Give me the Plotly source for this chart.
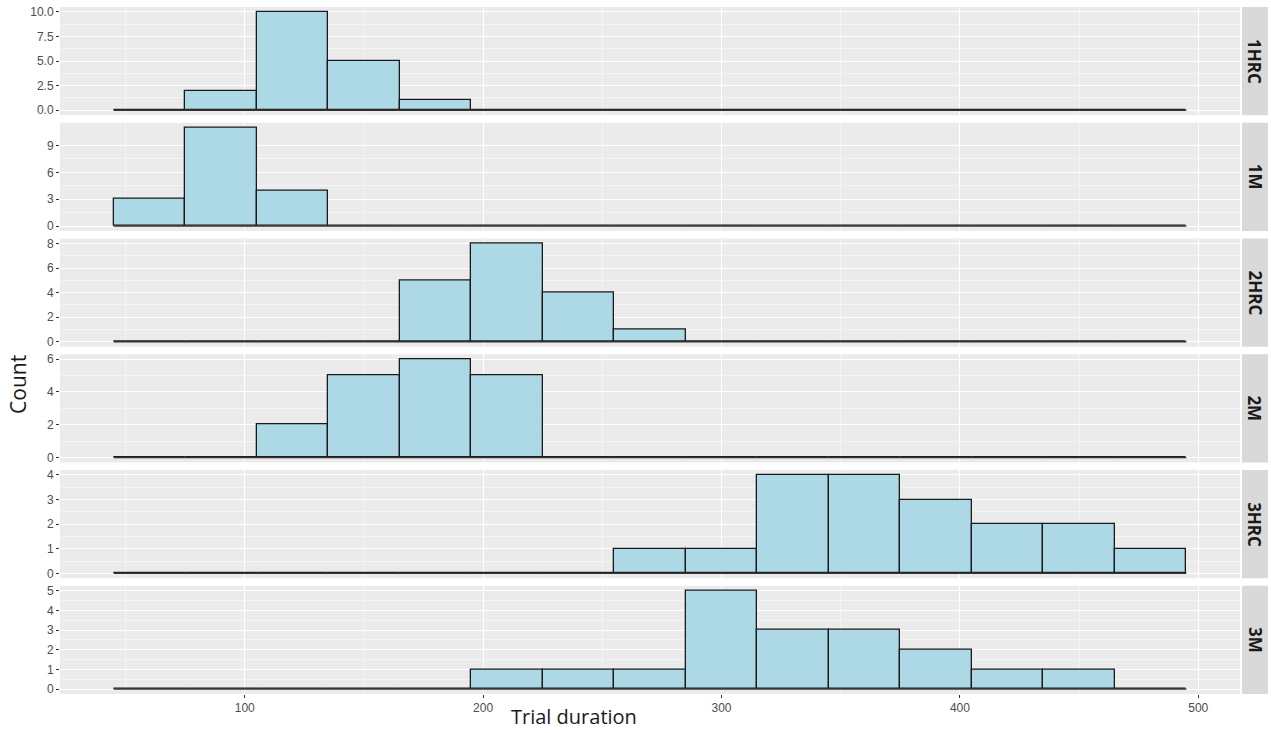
import plotly.graph_objects as go
from plotly.subplots import make_subplots

# ---- data ----
bin_centers = [60, 90, 120, 150, 180, 210, 240, 270, 300, 330, 360, 390, 420, 450, 480]
bin_width = 30
panels = ["1HRC", "1M", "2HRC", "2M", "3HRC", "3M"]
counts_1HRC = [0, 2, 10, 5, 1, 0, 0, 0, 0, 0, 0, 0, 0, 0, 0]
counts_1M = [3, 11, 4, 0, 0, 0, 0, 0, 0, 0, 0, 0, 0, 0, 0]
counts_2HRC = [0, 0, 0, 0, 5, 8, 4, 1, 0, 0, 0, 0, 0, 0, 0]
counts_2M = [0, 0, 2, 5, 6, 5, 0, 0, 0, 0, 0, 0, 0, 0, 0]
counts_3HRC = [0, 0, 0, 0, 0, 0, 0, 1, 1, 4, 4, 3, 2, 2, 1]
counts_3M = [0, 0, 0, 0, 0, 1, 1, 1, 5, 3, 3, 2, 1, 1, 0]
all_counts = [counts_1HRC, counts_1M, counts_2HRC, counts_2M, counts_3HRC, counts_3M]
y_ticks = [[0, 2.5, 5, 7.5, 10], [0, 3, 6, 9], [0, 2, 4, 6, 8], [0, 2, 4, 6], [0, 1, 2, 3, 4], [0, 1, 2, 3, 4, 5]]
x_ticks = [100, 200, 300, 400, 500]

# ---- figure ----
W, H = 1271, 733
ml, mr, mt, mb = 60, 31, 5, 39
plot_h = H - mt - mb
plot_w = W - ml - mr
gap_px = 7.6

fig = make_subplots(rows=6, cols=1, shared_xaxes=True, vertical_spacing=gap_px / plot_h)

x_lo = bin_centers[0] - bin_width / 2
x_hi = bin_centers[-1] + bin_width / 2
pad = 0.05 * (x_hi - x_lo)

tick_font = dict(family="Liberation Sans, Arial, sans-serif", size=12, color="#4D4D4D")

for i, (name, cnt) in enumerate(zip(panels, all_counts)):
    r = i + 1
    fig.add_trace(go.Bar(x=bin_centers, y=cnt, width=bin_width,
                         marker=dict(color="#ADD8E6", line=dict(color="#1A1A1A", width=1.3)),
                         showlegend=False, hoverinfo="x+y"), row=r, col=1)
    fig.add_trace(go.Scatter(x=[x_lo, x_hi], y=[0, 0], mode="lines",
                             line=dict(color="#333333", width=1.5),
                             showlegend=False, hoverinfo="skip"), row=r, col=1)
    ymax = max(cnt)
    ticks = y_ticks[i]
    fig.update_yaxes(row=r, col=1, range=[-0.05 * ymax, 1.05 * ymax],
                     tickvals=ticks, ticktext=[format(t, ".1f") if i == 0 else str(t) for t in ticks],
                     showgrid=True, gridcolor="white", gridwidth=1.1,
                     minor=dict(tickvals=[(a + b) / 2 for a, b in zip(ticks[:-1], ticks[1:])],
                                showgrid=True, gridcolor="#F4F4F4", gridwidth=0.6, ticks=""),
                     zeroline=False, ticks="outside", ticklen=3, tickcolor="#333333", tickwidth=1,
                     tickfont=tick_font, showline=False)
    fig.update_xaxes(row=r, col=1, range=[x_lo - pad, x_hi + pad],
                     tickvals=x_ticks, showgrid=True, gridcolor="white", gridwidth=1.1,
                     minor=dict(tickvals=[50, 150, 250, 350, 450], showgrid=True,
                                gridcolor="#F4F4F4", gridwidth=0.6, ticks=""),
                     zeroline=False, showline=False,
                     ticks="outside" if r == 6 else "", ticklen=3, tickcolor="#333333",
                     showticklabels=(r == 6), tickfont=tick_font)

    # strip
    yref = "y domain" if r == 1 else f"y{r} domain"
    fig.add_shape(type="rect", xref="paper", yref=yref,
                  x0=1 + 2 / plot_w, x1=1 + 28 / plot_w, y0=0, y1=1,
                  fillcolor="#D9D9D9", line=dict(width=0), layer="below")
    fig.add_annotation(xref="paper", yref=yref, x=1 + 15 / plot_w, y=0.5,
                       text=f"<b>{name}</b>", textangle=90, showarrow=False,
                       font=dict(family="Open Sans, sans-serif", size=17, color="#1A1A1A"),
                       xanchor="center", yanchor="middle")

fig.add_annotation(xref="paper", yref="paper", x=(574 - ml) / plot_w, y=-(717 - (H - mb)) / plot_h,
                   text="Trial duration", showarrow=False, xanchor="center", yanchor="middle",
                   font=dict(family="Open Sans, sans-serif", size=20, color="#1A1A1A"))
fig.add_annotation(xref="paper", yref="paper", x=-(ml - 18) / plot_w, y=1 - (384 - mt) / plot_h,
                   text="Count", showarrow=False, textangle=-90, xanchor="center", yanchor="middle",
                   font=dict(family="Open Sans, sans-serif", size=21, color="#1A1A1A"))

fig.update_layout(width=W, height=H, margin=dict(l=ml, r=mr, t=mt, b=mb),
                  paper_bgcolor="white", plot_bgcolor="#EBEBEB", bargap=0,
                  showlegend=False)

fig.write_html("out.html", config={"displayModeBar": False},
               post_script="document.body.style.margin='0px';document.body.style.overflow='hidden';")
